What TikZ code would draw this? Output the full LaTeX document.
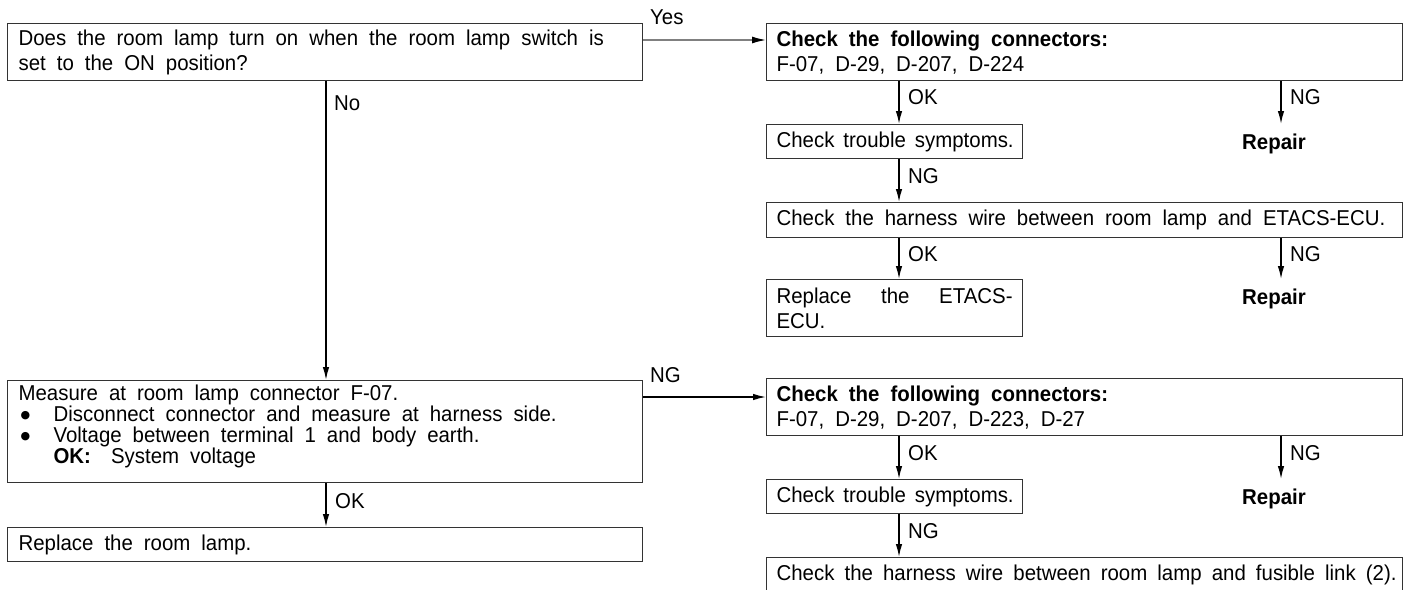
\documentclass[tikz,border=0pt]{standalone}
\usepackage{fontspec}
\setmainfont{Liberation Sans}[FakeStretch=0.95]
\newfontfamily\dvs{DejaVu Sans}
\usetikzlibrary{arrows.meta,calc}
\newcommand\wsp{\spaceskip=11pt plus 3pt minus 2pt\xspaceskip=\spaceskip\relax}
\newcommand\fsz{\fontsize{21.5pt}{21pt}\selectfont}
\newcommand\fsztwo{\fontsize{21.5pt}{25pt}\selectfont}
\newcommand\bul{\makebox[35pt][l]{\hspace{2pt}\raisebox{2.5pt}{\dvs\fontsize{11pt}{11pt}\selectfont ●}}}
\begin{document}
\begin{tikzpicture}[x=1pt,y=-1pt,
  box/.style={draw=black!80, line width=1.2pt, anchor=north west, inner xsep=11pt, inner ysep=0pt, align=left, font=\fsz, execute at begin node={\wsp}},
  two/.style={font=\fsztwo},
  lbox/.style={box, text width=613pt, minimum width=635pt},
  wbox/.style={box, inner xsep=10pt, text width=616pt, minimum width=636pt},
  sbox/.style={box, inner xsep=10pt, text width=236pt, minimum width=256pt},
  lab/.style={font=\fsz, inner sep=0pt, anchor=west},
  rep/.style={font=\fsz\bfseries, anchor=north, inner xsep=0pt, inner ysep=10pt},
  arr/.style={line width=1.4pt, -{Latex[length=13pt,width=6.5pt]}},
  yarr/.style={line width=1.4pt, draw=black!50, -{Latex[length=14pt,width=7pt,color=black]}},
]
\clip (0,0) rectangle (1407,589);
\fill[white] (0,0) rectangle (1407,589);

\coordinate (nx) at (326,0);
\coordinate (okx) at (899,0);
\coordinate (ngx) at (1281,0);
\coordinate (rx) at (1274,0);

% left column
\node[lbox, two, minimum height=57pt] (qa) at (7,23)
  {Does the room lamp turn on when the room lamp switch is\\ set to the ON position?};
\node[lbox, minimum height=102pt] (mc) at (7,380)
  {Measure at room lamp connector F-07.\\
   \bul Disconnect connector and measure at harness side.\\
   \bul Voltage between terminal 1 and body earth.\\
   \hspace*{35pt}\textbf{OK:}\hspace{20pt}System voltage\\[-6pt]\mbox{}};
\node[lbox, minimum height=34pt] (rl) at (7,527) {Replace the room lamp.};

% right column, upper
\node[wbox, two, minimum height=57pt] (cb) at (766,23)
  {\textbf{Check the following connectors:}\\ F-07, D-29, D-207, D-224};
\node[sbox, minimum height=34pt] (t1) at (766,124) {\makebox[230pt][s]{Check trouble symptoms.}};
\node[wbox, minimum height=35pt] (h1) at (766,202)
  {Check the harness wire between room lamp and ETACS-ECU.};
\node[sbox, two, minimum height=57pt] (e1) at (766,279)
  {\makebox[236pt][s]{Replace the ETACS-}\\ ECU.};
\node[rep] (r1) at (t1.north -| rx) {Repair};
\node[rep] (r2) at (e1.north -| rx) {Repair};

% right column, lower
\node[wbox, two, minimum height=57pt] (cd) at (766,378)
  {\textbf{Check the following connectors:}\\ F-07, D-29, D-207, D-223, D-27};
\node[sbox, minimum height=34pt] (t2) at (766,479) {\makebox[230pt][s]{Check trouble symptoms.}};
\node[wbox, minimum height=35pt] (h2) at (766,557)
  {\makebox[620pt][s]{Check the harness wire between room lamp and fusible link (2).}};
\node[rep] (r3) at (t2.north -| rx) {Repair};

% connectors
\draw[yarr] ($(qa.north east)+(0,17)$) coordinate (ys) -- (ys -| cb.west);
\node[lab] (lyes) at (650,17) {Yes};

\draw[arr] (qa.south -| nx) -- (mc.north -| nx);
\node[lab] (lno) at ($(qa.south -| nx)+(8,22)$) {No};

\draw[arr] ($(mc.north east)+(0,17)$) coordinate (ns) -- (ns -| cd.west);
\node[lab] (lng0) at (650,375) {NG};

\draw[arr] (mc.south -| nx) -- (rl.north -| nx);
\node[lab] (lok0) at ($(mc.south -| nx)+(9,18)$) {OK};

\draw[arr] (cb.south -| okx) -- (t1.north -| okx);
\node[lab] (lok1) at ($(cb.south -| okx)+(9,16)$) {OK};
\draw[arr] (cb.south -| ngx) -- (r1.north -| ngx);
\node[lab] (lng1) at ($(cb.south -| ngx)+(9,16)$) {NG};

\draw[arr] (t1.south -| okx) -- (h1.north -| okx);
\node[lab] (lng2) at ($(t1.south -| okx)+(9,17)$) {NG};

\draw[arr] (h1.south -| okx) -- (e1.north -| okx);
\node[lab] (lok2) at ($(h1.south -| okx)+(9,16)$) {OK};
\draw[arr] (h1.south -| ngx) -- (r2.north -| ngx);
\node[lab] (lng3) at ($(h1.south -| ngx)+(9,16)$) {NG};

\draw[arr] (cd.south -| okx) -- (t2.north -| okx);
\node[lab] (lok3) at ($(cd.south -| okx)+(9,17)$) {OK};
\draw[arr] (cd.south -| ngx) -- (r3.north -| ngx);
\node[lab] (lng4) at ($(cd.south -| ngx)+(9,17)$) {NG};

\draw[arr] (t2.south -| okx) -- (h2.north -| okx);
\node[lab] (lng5) at ($(t2.south -| okx)+(9,17)$) {NG};
\end{tikzpicture}
\end{document}
